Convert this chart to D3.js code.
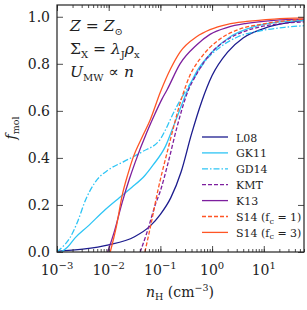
<!DOCTYPE html>
<html>
<head>
<meta charset="utf-8">
<script src="https://cdn.jsdelivr.net/npm/d3@7"></script>
<style>
body { margin: 0; background: #fff; }
text { font-family: "DejaVu Serif", serif; fill: #222; }
</style>
</head>
<body>
<svg id="chart" width="307" height="310"></svg>
<script>
// curves: [log10 nH, f_mol]
var L08 = [[-3,0.003],[-2.5,0.012],[-2.0,0.03],[-1.5,0.065],[-1.2,0.11],[-1.0,0.16],[-0.8,0.23],[-0.6,0.34],[-0.4,0.5],[-0.2,0.64],[0,0.75],[0.3,0.85],[0.6,0.91],[1.0,0.95],[1.4,0.972],[1.78,0.985]];
var GK11 = [[-2.92,0],[-2.8,0.02],[-2.65,0.06],[-2.4,0.11],[-2.07,0.18],[-1.8,0.23],[-1.55,0.275],[-1.3,0.325],[-1.14,0.37],[-0.9,0.45],[-0.72,0.55],[-0.47,0.69],[-0.29,0.77],[0,0.85],[0.35,0.915],[0.7,0.95],[1.2,0.975],[1.78,0.985]];
var GD14 = [[-3.0,0],[-2.9,0.02],[-2.75,0.06],[-2.6,0.13],[-2.45,0.22],[-2.25,0.3],[-2.0,0.35],[-1.7,0.385],[-1.36,0.425],[-1.0,0.48],[-0.9,0.52],[-0.75,0.59],[-0.55,0.67],[-0.35,0.74],[-0.1,0.82],[0.15,0.87],[0.5,0.915],[0.93,0.94],[1.4,0.955],[1.78,0.962]];
var KMT = [[-1.39,0],[-1.25,0.09],[-1.1,0.2],[-1.0,0.26],[-0.85,0.38],[-0.68,0.53],[-0.49,0.67],[-0.29,0.76],[0,0.85],[0.35,0.91],[0.8,0.95],[1.3,0.97],[1.78,0.978]];
var K13 = [[-2.02,0],[-1.9,0.08],[-1.74,0.21],[-1.6,0.31],[-1.49,0.38],[-1.26,0.51],[-1.1,0.59],[-0.97,0.65],[-0.87,0.69],[-0.62,0.8],[-0.3,0.88],[-0.04,0.925],[0.3,0.955],[0.67,0.972],[1.2,0.985],[1.78,0.99]];
var S14fc1 = [[-1.3,0],[-1.18,0.12],[-1.05,0.26],[-0.85,0.44],[-0.58,0.66],[-0.43,0.75],[-0.2,0.83],[0.15,0.905],[0.5,0.945],[1.0,0.97],[1.78,0.99]];
var S14fc3 = [[-1.97,0],[-1.85,0.11],[-1.74,0.24],[-1.63,0.33],[-1.53,0.4],[-1.35,0.49],[-1.2,0.56],[-1.0,0.68],[-0.8,0.78],[-0.62,0.85],[-0.3,0.915],[-0.04,0.945],[0.3,0.968],[0.67,0.98],[1.2,0.99],[1.78,0.995]];

var xTicks = [1e-3, 1e-2, 1e-1, 1, 10];
var xTickExp = ["−3", "−2", "−1", "0", "1"];
var yTicks = [0, 0.2, 0.4, 0.6, 0.8, 1.0];

var series = [
	{ name: "L08", data: L08, color: "#1c1c8e", dash: null },
	{ name: "GK11", data: GK11, color: "#2ec5f5", dash: null },
	{ name: "GD14", data: GD14, color: "#2ec5f5", dash: "6,2,1.5,2" },
	{ name: "KMT", data: KMT, color: "#7d1f9e", dash: "4,2" },
	{ name: "K13", data: K13, color: "#7d1f9e", dash: null },
	{ name: "S14fc1", data: S14fc1, color: "#ff5525", dash: "4,2" },
	{ name: "S14fc3", data: S14fc3, color: "#ff5525", dash: null }
];

var svg = d3.select("#chart");
var L = 57, R = 304, T = 5, B = 252;

var x = d3.scaleLog().domain([1e-3, 60]).range([L, R]);
var y = d3.scaleLinear().domain([0, 1.05]).range([B, T]);

var plot = svg.append("g");
plot.append("clipPath").attr("id", "clip")
	.append("rect").attr("x", L).attr("y", T).attr("width", R - L).attr("height", B - T);

var line = d3.line()
	.x(function(d) { return x(Math.pow(10, d[0])) })
	.y(function(d) { return y(d[1]) })
	.curve(d3.curveMonotoneX);

plot.append("g").attr("clip-path", "url(#clip)")
	.selectAll("path")
	.data(series)
	.enter()
	.append("path")
	.attr("d", function(s) { return line(s.data) })
	.attr("fill", "none")
	.attr("stroke", function(s) { return s.color })
	.attr("stroke-width", 1.3)
	.attr("stroke-dasharray", function(s) { return s.dash });

// axes with inward ticks on all sides
var minor = [];
for (var e = -3; e <= 1; e++) {
	for (var m = 1; m < 10; m++) {
		var v = m * Math.pow(10, e);
		if (v <= 60) minor.push(v);
	}
}
var axB = d3.axisBottom(x).tickValues(minor).tickSize(-3).tickFormat("");
var axT = d3.axisTop(x).tickValues(minor).tickSize(-3).tickFormat("");
svg.append("g").attr("transform", "translate(0," + B + ")").call(axB);
svg.append("g").attr("transform", "translate(0," + T + ")").call(axT);
svg.append("g").attr("transform", "translate(0," + B + ")")
	.call(d3.axisBottom(x).tickValues(xTicks).tickSize(-6).tickFormat(""));
svg.append("g").attr("transform", "translate(0," + T + ")")
	.call(d3.axisTop(x).tickValues(xTicks).tickSize(-6).tickFormat(""));
svg.append("g").attr("transform", "translate(" + L + ",0)")
	.call(d3.axisLeft(y).tickValues(yTicks).tickSize(-6).tickFormat(""));
svg.append("g").attr("transform", "translate(" + R + ",0)")
	.call(d3.axisRight(y).tickValues(yTicks).tickSize(-6).tickFormat(""));
svg.selectAll(".domain").remove();
svg.selectAll(".tick line").attr("stroke", "#222").attr("stroke-width", 0.8);

svg.append("rect").attr("x", L).attr("y", T).attr("width", R - L).attr("height", B - T)
	.attr("fill", "none").attr("stroke", "#222").attr("stroke-width", 1.2);

// tick labels
svg.selectAll(".ylab").data(yTicks).enter().append("text")
	.attr("x", L - 7).attr("y", function(d) { return y(d) + 5 })
	.attr("text-anchor", "end").attr("font-size", 14)
	.text(function(d) { return d.toFixed(1) });

var xl = svg.selectAll(".xlab").data(xTicks).enter().append("text")
	.attr("x", function(d) { return x(d) }).attr("y", B + 23)
	.attr("text-anchor", "middle").attr("font-size", 14);
xl.append("tspan").text("10");
xl.append("tspan").attr("dy", -6).attr("font-size", 10).text(function(d, i) { return xTickExp[i] });

// axis titles
var xt = svg.append("text").attr("x", 180).attr("y", 297).attr("text-anchor", "middle").attr("font-size", 14);
xt.append("tspan").attr("font-style", "italic").text("n");
xt.append("tspan").attr("dy", 3).attr("font-size", 9.5).text("H");
xt.append("tspan").attr("dy", -3).text(" (cm");
xt.append("tspan").attr("dy", -6).attr("font-size", 9.5).text("−3");
xt.append("tspan").attr("dy", 6).text(")");

var yt = svg.append("text").attr("transform", "translate(16,128) rotate(-90)")
	.attr("text-anchor", "middle").attr("font-size", 14);
yt.append("tspan").attr("font-style", "italic").text("f");
yt.append("tspan").attr("dy", 3).attr("font-size", 9.5).text("mol");

// annotation
var a1 = svg.append("text").attr("x", 70).attr("y", 31).attr("font-size", 15.5);
a1.append("tspan").attr("font-style", "italic").text("Z");
a1.append("tspan").text(" = ");
a1.append("tspan").attr("font-style", "italic").text("Z");
a1.append("tspan").attr("dy", 4).attr("font-size", 10).text("⊙");
var a2 = svg.append("text").attr("x", 70).attr("y", 54).attr("font-size", 15.5);
a2.append("tspan").text("Σ");
a2.append("tspan").attr("dy", 4).attr("font-size", 10).text("X");
a2.append("tspan").attr("dy", -4).text(" = ");
a2.append("tspan").attr("font-style", "italic").text("λ");
a2.append("tspan").attr("dy", 4).attr("font-size", 10).text("J");
a2.append("tspan").attr("dy", -4).attr("font-style", "italic").text("ρ");
a2.append("tspan").attr("dy", 4).attr("font-size", 10).text("x");
var a3 = svg.append("text").attr("x", 70).attr("y", 77).attr("font-size", 15.5);
a3.append("tspan").attr("font-style", "italic").text("U");
a3.append("tspan").attr("dy", 4).attr("font-size", 10).text("MW");
a3.append("tspan").attr("dy", -4).text(" ∝ ");
a3.append("tspan").attr("font-style", "italic").text("n");

// legend
var legLabels = ["L08", "GK11", "GD14", "KMT", "K13", "S14 (f", "S14 (f"];
var leg = svg.selectAll(".leg").data(series).enter().append("g")
	.attr("transform", function(s, i) { return "translate(0," + (137 + i * 15.9) + ")" });
leg.append("line").attr("x1", 202).attr("x2", 228).attr("y1", 0).attr("y2", 0)
	.attr("stroke", function(s) { return s.color }).attr("stroke-width", 1.3)
	.attr("stroke-dasharray", function(s) { return s.dash });
var lt = leg.append("text").attr("x", 236).attr("y", 4.5).attr("font-size", 11);
lt.append("tspan").text(function(s, i) { return legLabels[i] });
lt.filter(function(s, i) { return i >= 5 }).each(function(s, i) {
	var t = d3.select(this);
	t.append("tspan").attr("dy", 2.5).attr("font-size", 8).text("c");
	t.append("tspan").attr("dy", -2.5).text(i == 0 ? " = 1)" : " = 3)");
});
</script>
</body>
</html>
